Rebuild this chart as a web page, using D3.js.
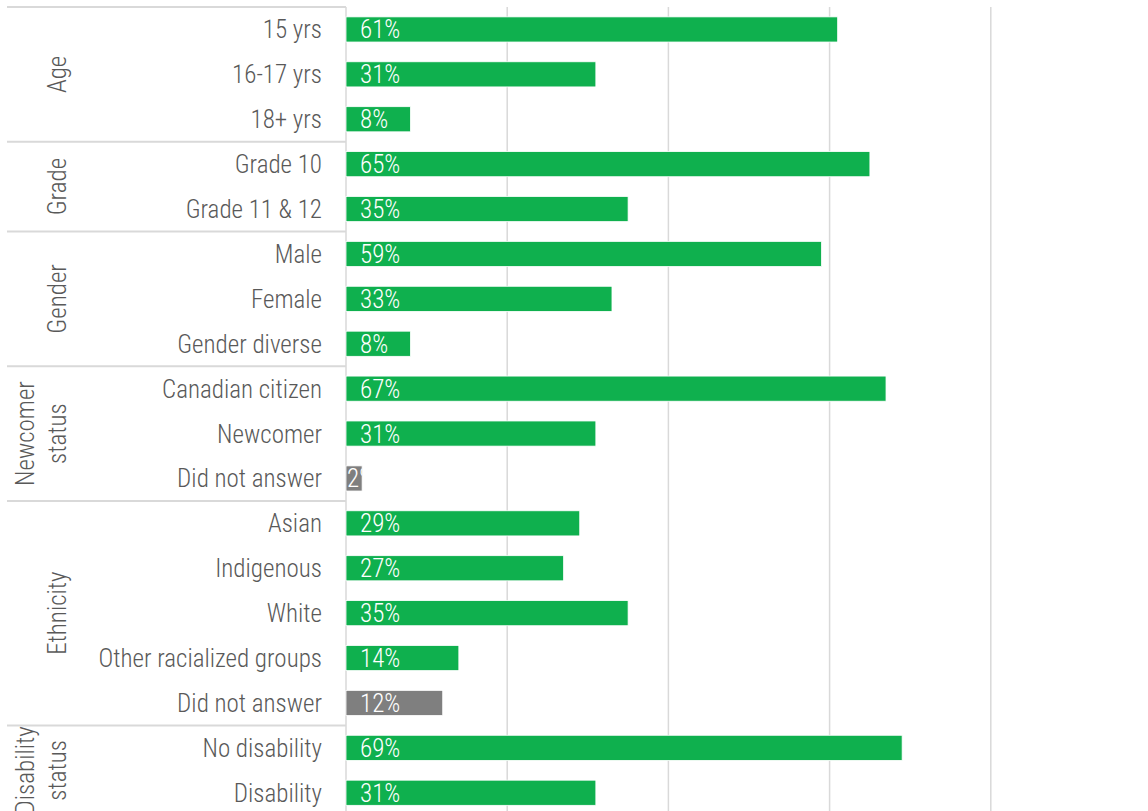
<!DOCTYPE html>
<html>
<head>
<meta charset="utf-8">
<script src="https://cdn.jsdelivr.net/npm/d3@7"></script>
<style>
  html, body { margin: 0; padding: 0; background: #fff; }
  svg { display: block; }
  text { font-family: "Liberation Sans Narrow", "Arial Narrow", "Roboto Condensed", "Liberation Sans", sans-serif; font-weight: 300; }
</style>
</head>
<body>
<svg id="chart" width="1148" height="811"></svg>
<script>
// Respondent profile: share of respondents in each category
const categories = [
  "15 yrs", "16-17 yrs", "18+ yrs",
  "Grade 10", "Grade 11 & 12",
  "Male", "Female", "Gender diverse",
  "Canadian citizen", "Newcomer", "Did not answer",
  "Asian", "Indigenous", "White", "Other racialized groups", "Did not answer",
  "No disability", "Disability"
];
const values = [61, 31, 8, 65, 35, 59, 33, 8, 67, 31, 2, 29, 27, 35, 14, 12, 69, 31];
const answered = [1, 1, 1, 1, 1, 1, 1, 1, 1, 1, 0, 1, 1, 1, 1, 0, 1, 1];

// Group headings (lines of each heading) and the number of rows in each group
const groupNames = [["Age"], ["Grade"], ["Gender"], ["Newcomer", "status"], ["Ethnicity"], ["Disability", "status"]];
const groupSizes = [3, 2, 3, 3, 5, 2];

const xTicks = [0, 20, 40, 60, 80, 100];

const svg = d3.select("#chart");
const plotTop = 7, step = 44.9;
const rows = categories.map((c, i) => i);

const x = d3.scaleLinear().domain([0, 100]).range([346, 1152]);
const y = d3.scaleBand().domain(rows).range([plotTop, plotTop + step * rows.length]).paddingInner(0.44).paddingOuter(0.22);

const grid = "#d9d9d9";
const yEnd = plotTop + step * rows.length;
const fs = 25;

// vertical gridlines
svg.append("g").selectAll("line").data(xTicks).join("line")
  .attr("x1", d => x(d)).attr("x2", d => x(d))
  .attr("y1", plotTop).attr("y2", yEnd)
  .attr("stroke", grid).attr("stroke-width", 1.5);

// group boundaries on the category axis
const bounds = [0];
groupSizes.forEach(s => bounds.push(bounds[bounds.length - 1] + s));
svg.append("g").selectAll("line").data(bounds).join("line")
  .attr("x1", 7).attr("x2", x(0))
  .attr("y1", d => plotTop + d * step).attr("y2", d => plotTop + d * step)
  .attr("stroke", grid).attr("stroke-width", 2);

// bars
const bars = svg.append("g");
bars.selectAll("rect").data(rows).join("rect")
  .attr("x", x(0))
  .attr("y", i => y(i))
  .attr("width", i => x(values[i]) - x(0))
  .attr("height", y.bandwidth())
  .attr("fill", i => answered[i] ? "#0fb04e" : "#7f7f7f")
  .attr("stroke", "#ffffff").attr("stroke-width", 0.8);

// value labels, clipped to their bars
const defs = svg.append("defs");
rows.forEach(i => {
  defs.append("clipPath").attr("id", "clip" + i).append("rect")
    .attr("x", x(0)).attr("y", y(i))
    .attr("width", x(values[i]) - x(0)).attr("height", y.bandwidth());
});
svg.append("g").selectAll("text").data(rows).join("text")
  .attr("clip-path", i => values[i] < 5 ? `url(#clip${i})` : null)
  .attr("x", i => values[i] < 5 ? x(0) + 1 : x(0) + 14)
  .attr("y", i => y(i) + y.bandwidth() / 2)
  .attr("dy", "0.36em")
  .attr("fill", "#ffffff")
  .attr("font-size", fs)
  .text(i => values[i] + "%");

// category labels
svg.append("g").selectAll("text").data(rows).join("text")
  .attr("x", 322)
  .attr("y", i => y(i) + y.bandwidth() / 2)
  .attr("dy", "0.36em")
  .attr("text-anchor", "end")
  .attr("fill", "#595959")
  .attr("font-size", fs)
  .text(i => categories[i]);

// group headings, rotated
groupNames.forEach((lines, g) => {
  const cy = plotTop + (bounds[g] + bounds[g + 1]) / 2 * step;
  const n = lines.length;
  lines.forEach((t, k) => {
    const cx = 57 - (n - 1 - k) * 32;
    svg.append("text")
      .attr("transform", `translate(${cx},${cy}) rotate(-90)`)
      .attr("text-anchor", "middle")
      .attr("dy", "0.36em")
      .attr("fill", "#595959")
      .attr("font-size", fs)
      .text(t);
  });
});
</script>
</body>
</html>
